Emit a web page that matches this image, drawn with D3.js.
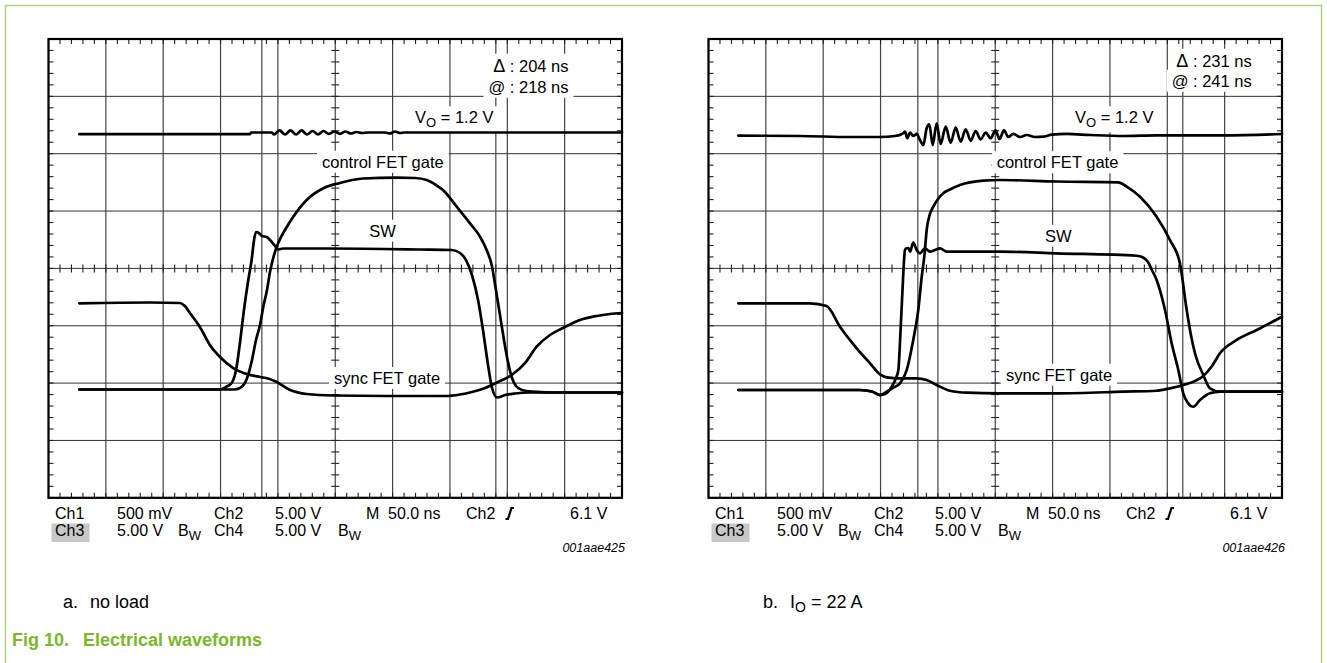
<!DOCTYPE html>
<html>
<head>
<meta charset="utf-8">
<script src="https://cdn.jsdelivr.net/npm/d3@7"></script>
<style>
  body { margin: 0; background: #fff; }
  svg text { font-family: "Liberation Sans", Arial, sans-serif; fill: #000; }
</style>
</head>
<body>
<svg id="chart" width="1327" height="663"></svg>
<script>
// time in ns (50 ns/div), level in divisions from the centre line
const voA = [[26.9,2.34],[175.7,2.34],[176.5,2.37],[194.8,2.37],[196.6,2.335],[201.4,2.405],[206.2,2.335],[211.0,2.405],[215.8,2.335],[220.6,2.405],[225.4,2.335],[230.2,2.396],[235.0,2.335],[239.7,2.396],[244.5,2.344],[249.3,2.387],[254.1,2.344],[258.9,2.387],[263.7,2.352],[268.5,2.378],[273.3,2.361],[278.5,2.37],[293.4,2.37],[297.7,2.352],[302.1,2.387],[306.5,2.361],[310,2.37],[500,2.37]];
const swA = [[26.9,-2.112],[149.5,-2.112],[154.7,-2.068],[159.7,-1.998],[163.5,-1.772],[166.9,-1.301],[170.4,-0.725],[174.2,-0.202],[177.1,0.146],[179.2,0.495],[180.9,0.635],[183.5,0.617],[186.1,0.565],[190.2,0.547],[193.1,0.495],[197.5,0.391],[200.1,0.33],[204.4,0.347],[245.4,0.347],[323.9,0.33],[351.8,0.321],[358.8,0.269],[364.0,0.146],[369.2,-0.115],[374.5,-0.551],[378.8,-1.074],[383.2,-1.684],[386.7,-2.085],[391.1,-2.251],[398.0,-2.208],[406.7,-2.181],[419.8,-2.164],[500,-2.164]];
const ctrlA = [[26.9,-2.112],[161.7,-2.112],[166.9,-2.085],[171.3,-1.998],[174.8,-1.807],[177.4,-1.597],[180.9,-1.248],[184.4,-0.987],[187.4,-0.656],[190.5,-0.377],[193.1,-0.063],[196.6,0.233],[200.3,0.443],[206.2,0.67],[213.4,0.901],[225.1,1.193],[239.6,1.397],[254.1,1.489],[274.2,1.568],[303.6,1.582],[319.5,1.576],[329.7,1.541],[337.8,1.454],[343.9,1.367],[355.9,1.076],[367.5,0.786],[376.2,0.553],[382.0,0.321],[386.4,0.059],[390.1,-0.377],[393.6,-0.813],[397.1,-1.248],[400.6,-1.632],[404.1,-1.911],[407.6,-2.051],[412.8,-2.12],[421.5,-2.147],[445.9,-2.164],[500,-2.164]];
const syncA = [[26.9,-0.609],[88.5,-0.595],[114.6,-0.603],[118.9,-0.656],[123.3,-0.778],[132.0,-1.022],[140.7,-1.336],[149.5,-1.545],[161.1,-1.737],[172.8,-1.841],[184.4,-1.894],[191.4,-1.92],[199.0,-1.981],[210.6,-2.12],[225.1,-2.19],[248.0,-2.216],[306.5,-2.225],[345.7,-2.225],[358.8,-2.199],[369.2,-2.155],[380.6,-2.085],[391.9,-1.981],[403.8,-1.859],[415.4,-1.65],[425.6,-1.365],[437.2,-1.161],[448.5,-1.039],[463.4,-0.9],[477.9,-0.83],[489.5,-0.795],[500,-0.778]];

const voB = [[26.0,2.314],[79.8,2.309],[123.4,2.291],[149.5,2.291],[162.6,2.309],[167.8,2.335],[169.8,2.356],[171.3,2.384],[173.3,2.269],[175.7,2.366],[178.5,2.309],[181.5,2.344],[184.4,2.239],[187.3,2.152],[190.2,2.443],[192.5,2.513],[195.5,2.152],[198.9,2.53],[202.4,2.169],[206.8,2.471],[211.1,2.192],[215.5,2.453],[219.9,2.209],[224.2,2.426],[228.6,2.227],[232.9,2.396],[237.3,2.251],[241.7,2.366],[246.0,2.269],[250.2,2.405],[253.7,2.256],[257.6,2.405],[261.4,2.291],[265.7,2.344],[271.6,2.291],[277.4,2.326],[284.6,2.291],[291.9,2.297],[299.2,2.331],[312.3,2.344],[332.6,2.326],[361.6,2.309],[390.7,2.321],[448.8,2.321],[500,2.344]];
const swB = [[26.0,-2.12],[132.1,-2.12],[142.5,-2.147],[149.5,-2.208],[153.9,-2.19],[159.7,-2.063],[163.5,-1.911],[165.5,-1.772],[167.6,-1.017],[169.0,-0.434],[170.5,0.146],[171.3,0.321],[172.8,0.35],[174.4,0.356],[175.7,0.291],[178.5,0.448],[181.5,0.321],[184.4,0.263],[188.7,0.35],[193.1,0.291],[197.5,0.321],[201.8,0.35],[207.7,0.291],[254.1,0.291],[303.6,0.263],[373.3,0.221],[378.8,0.19],[383.2,0.112],[386.6,-0.028],[390.7,-0.202],[398.0,-0.725],[403.8,-1.306],[409.6,-1.772],[413.9,-2.178],[418.0,-2.347],[422.6,-2.412],[428.5,-2.295],[437.2,-2.178],[445.9,-2.15],[500,-2.15]];
const ctrlB = [[26.0,-2.12],[132.1,-2.12],[142.5,-2.147],[149.5,-2.208],[155.4,-2.15],[160.8,-2.085],[166.9,-2.004],[172.8,-1.772],[178.5,-1.248],[182.9,-0.725],[185.9,-0.145],[188.3,0.234],[190.2,0.67],[193.1,0.949],[196.0,1.076],[200.1,1.21],[204.7,1.31],[210.5,1.376],[219.3,1.454],[239.6,1.529],[254.1,1.541],[303.6,1.515],[357.3,1.501],[364.6,1.425],[376.2,1.25],[390.7,0.901],[402.3,0.495],[411.0,0.089],[416.9,-0.725],[420.6,-1.161],[424.1,-1.48],[431.4,-1.859],[437.2,-2.091],[445.9,-2.15],[500,-2.15]];
const syncB = [[26.0,-0.609],[88.6,-0.609],[103.0,-0.656],[114.6,-1.017],[129.2,-1.393],[140.8,-1.655],[149.5,-1.847],[155.4,-1.899],[166.9,-1.916],[181.5,-1.916],[190.2,-1.946],[198.9,-2.033],[210.5,-2.133],[225.1,-2.167],[254.1,-2.178],[303.6,-2.178],[361.6,-2.15],[390.7,-2.133],[402.3,-2.091],[413.9,-2.033],[431.4,-1.876],[439.0,-1.702],[445.9,-1.48],[460.5,-1.248],[477.9,-1.074],[500,-0.842]];

const cursorsA = [186, 390];
const cursorsB = [182.5, 413.5];

const gridTimes = [0, 50, 100, 150, 200, 250, 300, 350, 400, 450, 500];
const gridLevels = [-4, -3, -2, -1, 0, 1, 2, 3, 4];

const readRow1 = ["Ch1", "500 mV", "Ch2", "5.00 V", "M", "50.0 ns", "Ch2", "6.1 V"];
const readRow2 = ["Ch3", "5.00 V", "B", "Ch4", "5.00 V", "B"];

const W = 573.5, H = 458.8;
const xS = d3.scaleLinear().domain([0, 500]).range([0, W]);
const yS = d3.scaleLinear().domain([-4, 4]).range([H, 0]);

const panels = [
  { x: 48.5, y: 39, vo: voA, sw: swA, ctrl: ctrlA, sync: syncA, cursors: cursorsA,
    delta: "204 ns", at: "218 ns", code: "001aae425",
    pos: { dx: 520, dy: 32.7, ay: 53.7, vox: 366.5, voy: 84.3, cx: 273.5, cy: 128.7, swx: 320.8, swy: 197.7, sx: 285.5, sy: 345 } },
  { x: 708.5, y: 39, vo: voB, sw: swB, ctrl: ctrlB, sync: syncB, cursors: cursorsB,
    delta: "231 ns", at: "241 ns", code: "001aae426",
    pos: { dx: 543.2, dy: 27.7, ay: 47.7, vox: 366.5, voy: 84.3, cx: 288.2, cy: 129.3, swx: 336.5, swy: 202.7, sx: 297.5, sy: 341.7 } }
];

const svg = d3.select("#chart");

// green figure border
svg.append("path")
  .attr("d", "M5.5,663V5.5H1321.5V663")
  .attr("fill", "none")
  .attr("stroke", "#b0d67c")
  .attr("stroke-width", 1.5);

panels.forEach(p => drawScope(p));

function boxedText(g, x, y, anchor) {
  const t = g.append("text")
    .attr("x", x).attr("y", y)
    .attr("text-anchor", anchor || "start")
    .style("font-size", "16.5px");
  return t;
}

function addBox(g, t) {
  const b = t.node().getBBox();
  g.insert("rect", "text")
    .attr("x", b.x - 5).attr("y", b.y - 2)
    .attr("width", b.width + 10).attr("height", b.height + 4)
    .attr("fill", "#fff");
}

function drawScope(p) {
  const g = svg.append("g").attr("transform", `translate(${p.x},${p.y})`);

  // graticule
  g.selectAll(".vg").data(gridTimes).enter().append("line")
    .attr("x1", d => xS(d)).attr("x2", d => xS(d))
    .attr("y1", 0).attr("y2", H)
    .attr("stroke", "#444").attr("stroke-width", 1.2);
  g.selectAll(".hg").data(gridLevels).enter().append("line")
    .attr("x1", 0).attr("x2", W)
    .attr("y1", d => yS(d)).attr("y2", d => yS(d))
    .attr("stroke", "#333").attr("stroke-width", 1);

  // cursors
  g.selectAll(".cur").data(p.cursors).enter().append("line")
    .attr("x1", d => xS(d)).attr("x2", d => xS(d))
    .attr("y1", 0).attr("y2", H)
    .attr("stroke", "#444").attr("stroke-width", 1.2);

  // minor ticks, 5 per division
  const minorT = d3.range(0, 501, 10);
  const minorV = d3.range(-4, 4.01, 0.2);
  const tk = g.append("g").attr("stroke", "#222").attr("stroke-width", 1.1);
  minorT.forEach(t => {
    const x = xS(t);
    tk.append("line").attr("x1", x).attr("x2", x).attr("y1", 0).attr("y2", 5);
    tk.append("line").attr("x1", x).attr("x2", x).attr("y1", H - 5).attr("y2", H);
    tk.append("line").attr("x1", x).attr("x2", x).attr("y1", yS(0) - 4).attr("y2", yS(0) + 4);
  });
  minorV.forEach(v => {
    const y = yS(v);
    tk.append("line").attr("x1", 0).attr("x2", 5).attr("y1", y).attr("y2", y);
    tk.append("line").attr("x1", W - 5).attr("x2", W).attr("y1", y).attr("y2", y);
    tk.append("line").attr("x1", xS(250) - 4).attr("x2", xS(250) + 4).attr("y1", y).attr("y2", y);
  });

  // labels with white backing
  const q = p.pos;
  const lg = g.append("g");
  let t = boxedText(lg, q.dx, q.dy, "end");
  t.append("tspan").style("font-size", "18px").text("\u0394");
  t.append("tspan").text(" : " + p.delta);
  addBox(lg, t);
  t = boxedText(lg, q.dx, q.ay, "end").text("@ : " + p.at); addBox(lg, t);
  t = boxedText(lg, q.vox, q.voy);
  t.append("tspan").text("V");
  t.append("tspan").attr("dy", 4).style("font-size", "13px").text("O");
  t.append("tspan").attr("dy", -4).text(" = 1.2 V");
  addBox(lg, t);
  t = boxedText(lg, q.cx, q.cy).text("control FET gate"); addBox(lg, t);
  t = boxedText(lg, q.swx, q.swy).text("SW"); addBox(lg, t);
  t = boxedText(lg, q.sx, q.sy).text("sync FET gate"); addBox(lg, t);

  // traces
  const line = d3.line()
    .x(d => xS(d[0]))
    .y(d => yS(d[1]))
    .curve(d3.curveMonotoneX);
  [p.vo, p.sync, p.ctrl, p.sw].forEach(series => {
    g.append("path")
      .attr("d", line(series))
      .attr("fill", "none")
      .attr("stroke", "#000")
      .attr("stroke-width", 2.7)
      .attr("stroke-linejoin", "round")
      .attr("stroke-linecap", "round");
  });

  // frame
  g.append("rect")
    .attr("x", 0).attr("y", 0).attr("width", W).attr("height", H)
    .attr("fill", "none").attr("stroke", "#000").attr("stroke-width", 2.2);

  // readout
  const r = g.append("g").style("font-size", "16px");
  const row1x = [6.5, 68.5, 165.5, 226.5, 317.5, 339.5, 417.5, 521.5];
  readRow1.forEach((s, i) => {
    r.append("text").attr("x", row1x[i]).attr("y", 480).text(s);
  });
  // trigger slope symbol
  r.append("path")
    .attr("d", "M457,480h2.5l3.5,-11h2.5")
    .attr("fill", "none").attr("stroke", "#000").attr("stroke-width", 2.2);

  r.append("rect").attr("x", 3).attr("y", 484.5).attr("width", 38).attr("height", 18.5).attr("fill", "#c8c8c8");
  const row2x = [6.5, 68.5, 129.5, 165.5, 226.5, 289.5];
  readRow2.forEach((s, i) => {
    const tt = r.append("text").attr("x", row2x[i]).attr("y", 497);
    tt.append("tspan").text(s);
    if (s === "B") tt.append("tspan").attr("dy", 4).style("font-size", "13px").text("W");
  });

  g.append("text")
    .attr("x", 576.5).attr("y", 513)
    .attr("text-anchor", "end")
    .style("font-size", "12.5px").style("font-style", "italic")
    .text(p.code);
}

// captions
const cap = svg.append("g").style("font-size", "18px");
cap.append("text").attr("x", 63).attr("y", 607.5).text("a.");
cap.append("text").attr("x", 90).attr("y", 607.5).text("no load");
cap.append("text").attr("x", 763).attr("y", 607.5).text("b.");
const io = cap.append("text").attr("x", 790).attr("y", 607.5);
io.append("tspan").text("I");
io.append("tspan").attr("dy", 4).style("font-size", "14px").text("O");
io.append("tspan").attr("dy", -4).text(" = 22 A");

const fig = svg.append("g").style("font-size", "18px").style("font-weight", "bold");
fig.append("text").attr("x", 12).attr("y", 646).style("fill", "#7ab829").text("Fig 10.");
fig.append("text").attr("x", 83).attr("y", 646).style("fill", "#7ab829").text("Electrical waveforms");
</script>
</body>
</html>
